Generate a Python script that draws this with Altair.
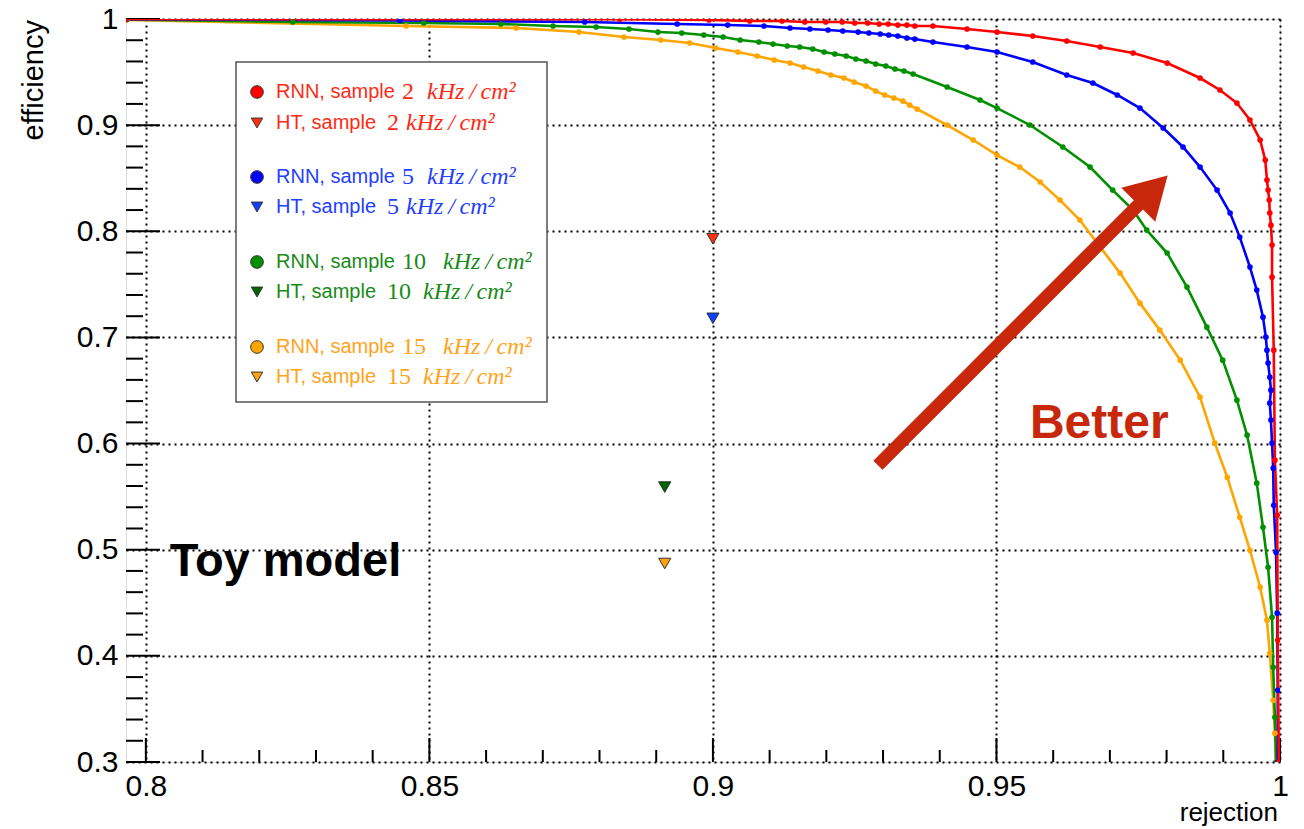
import altair as alt
import pandas as pd

# ---------------- data ----------------
samples = ["2", "5", "10", "15"]

rnn2_x = [0.7966, 0.8836, 0.8993, 0.9065, 0.9122, 0.9162, 0.9199, 0.9228, 0.9250, 0.9273,
          0.9293, 0.9309, 0.9326, 0.9342, 0.9356, 0.9388, 0.9448, 0.9501, 0.9564, 0.9624,
          0.9683, 0.9741, 0.9801, 0.9859, 0.9894, 0.9924, 0.9947, 0.9965, 0.9974, 0.9977,
          0.9979, 0.9981, 0.9982, 0.9984, 0.9986, 0.9986, 0.9989, 0.9991, 0.9995, 0.9996, 0.9998]
rnn2_y = [1.0, 0.9997, 0.9991, 0.9981, 0.9981, 0.9972, 0.9972, 0.9972, 0.9962, 0.9962,
          0.9953, 0.9953, 0.9943, 0.9943, 0.9934, 0.9934, 0.9906, 0.9877, 0.9840, 0.9793,
          0.9736, 0.9680, 0.9585, 0.9444, 0.9331, 0.9208, 0.9048, 0.8860, 0.8671, 0.8483,
          0.8388, 0.8294, 0.8172, 0.8058, 0.7870, 0.7568, 0.6880, 0.5844, 0.5325, 0.4147, 0.3000]

rnn5_x = [0.7966, 0.8448, 0.8774, 0.8937, 0.9026, 0.9090, 0.9136, 0.9171, 0.9203, 0.9229,
          0.9256, 0.9275, 0.9295, 0.9310, 0.9326, 0.9342, 0.9356, 0.9388, 0.9448, 0.9501,
          0.9564, 0.9624, 0.9670, 0.9713, 0.9753, 0.9794, 0.9829, 0.9859, 0.9889, 0.9912,
          0.9929, 0.9947, 0.9959, 0.9970, 0.9975, 0.9977, 0.9979, 0.9982, 0.9984, 0.9982,
          0.9984, 0.9986, 0.9988, 0.9989, 0.9993, 0.9995, 0.9996, 0.9996]
rnn5_y = [0.9998, 0.9986, 0.9972, 0.9953, 0.9943, 0.9934, 0.9915, 0.9906, 0.9896, 0.9887,
          0.9877, 0.9868, 0.9859, 0.9849, 0.9840, 0.9821, 0.9811, 0.9783, 0.9736, 0.9689,
          0.9595, 0.9472, 0.9397, 0.9284, 0.9161, 0.8973, 0.8794, 0.8605, 0.8388, 0.8172,
          0.7945, 0.7663, 0.7446, 0.7191, 0.7003, 0.6880, 0.6758, 0.6626, 0.6503, 0.6381,
          0.6221, 0.6004, 0.5768, 0.5419, 0.4976, 0.4402, 0.3676, 0.3000]

rnn10_x = [0.7966, 0.8259, 0.8490, 0.8626, 0.8718, 0.8794, 0.8852, 0.8903, 0.8945, 0.8984,
           0.9018, 0.9048, 0.9081, 0.9106, 0.9131, 0.9153, 0.9176, 0.9196, 0.9215, 0.9235,
           0.9252, 0.9270, 0.9287, 0.9305, 0.9321, 0.9337, 0.9353, 0.9413, 0.9471, 0.9501,
           0.9559, 0.9617, 0.9665, 0.9705, 0.9741, 0.9765, 0.9801, 0.9836, 0.9871, 0.9899,
           0.9924, 0.9942, 0.9959, 0.9970, 0.9979, 0.9986, 0.9988, 0.9991, 0.9993]
rnn10_y = [0.9995, 0.9972, 0.9962, 0.9953, 0.9934, 0.9925, 0.9906, 0.9877, 0.9868, 0.9849,
           0.9830, 0.9802, 0.9783, 0.9764, 0.9746, 0.9736, 0.9717, 0.9689, 0.9670, 0.9651,
           0.9623, 0.9604, 0.9576, 0.9557, 0.9529, 0.9510, 0.9482, 0.9359, 0.9237, 0.9161,
           0.9001, 0.8794, 0.8605, 0.8388, 0.8200, 0.8011, 0.7795, 0.7474, 0.7097, 0.6786,
           0.6409, 0.6079, 0.5627, 0.5212, 0.4835, 0.4364, 0.3893, 0.3421, 0.3000]

rnn15_x = [0.7966, 0.8459, 0.8653, 0.8764, 0.8843, 0.8908, 0.8959, 0.9005, 0.9044, 0.9078,
           0.9108, 0.9136, 0.9160, 0.9185, 0.9208, 0.9231, 0.9249, 0.9270, 0.9287, 0.9303,
           0.9319, 0.9335, 0.9347, 0.9360, 0.9413, 0.9459, 0.9501, 0.9541, 0.9577, 0.9612,
           0.9647, 0.9683, 0.9718, 0.9753, 0.9788, 0.9824, 0.9859, 0.9885, 0.9907, 0.9929,
           0.9947, 0.9965, 0.9977, 0.9982, 0.9988, 0.9991, 0.9993]
rnn15_y = [0.9990, 0.9934, 0.9915, 0.9877, 0.9830, 0.9802, 0.9774, 0.9727, 0.9689, 0.9651,
           0.9614, 0.9585, 0.9548, 0.9510, 0.9472, 0.9444, 0.9406, 0.9369, 0.9321, 0.9284,
           0.9255, 0.9227, 0.9189, 0.9152, 0.9001, 0.8860, 0.8718, 0.8605, 0.8464, 0.8294,
           0.8106, 0.7851, 0.7606, 0.7323, 0.7069, 0.6786, 0.6437, 0.6004, 0.5683, 0.5306,
           0.4995, 0.4647, 0.4336, 0.4024, 0.3582, 0.3270, 0.3000]

# HT working points (samples 2, 5, 10, 15)
ht_x = [0.9000, 0.9000, 0.8915, 0.8915]
ht_y = [0.793, 0.718, 0.559, 0.487]

# axis ticks
x_major = [0.8, 0.85, 0.9, 0.95, 1.0]
x_minor = [0.81, 0.82, 0.83, 0.84, 0.86, 0.87, 0.88, 0.89, 0.91, 0.92, 0.93, 0.94,
           0.96, 0.97, 0.98, 0.99]
y_major = [0.3, 0.4, 0.5, 0.6, 0.7, 0.8, 0.9, 1.0]
y_minor = [0.32, 0.34, 0.36, 0.38, 0.42, 0.44, 0.46, 0.48, 0.52, 0.54, 0.56, 0.58,
           0.62, 0.64, 0.66, 0.68, 0.72, 0.74, 0.76, 0.78, 0.82, 0.84, 0.86, 0.88,
           0.92, 0.94, 0.96, 0.98]

# annotations
arrow_x = [0.9291, 0.9757]
arrow_y = [0.5796, 0.8285]
arrow_head_x = [0.9776]
arrow_head_y = [0.8388]
better_pos = [0.9559, 0.6183]
toy_pos = [0.8042, 0.4882]

# ---------------- styling ----------------
curve_colors = {"2": "#ff0000", "5": "#0000ff", "10": "#009000", "15": "#ffa500"}
ht_colors = {"2": "#ff3010", "5": "#1040ff", "10": "#006400", "15": "#ffa010"}
text_colors = {"2": "#ff2a14", "5": "#1f40ff", "10": "#188a18", "15": "#ffa31a"}
ARROW = "#c7270b"
SANS = "Liberation Sans"
SERIF = "Liberation Serif"

W, H = 1154, 743

rows = []
for name, xs, ys in [("15", rnn15_x, rnn15_y), ("10", rnn10_x, rnn10_y),
                     ("5", rnn5_x, rnn5_y), ("2", rnn2_x, rnn2_y)]:
    for i, (x, y) in enumerate(zip(xs, ys)):
        rows.append({"sample": name, "rejection": x, "efficiency": y, "order": i})
curves = pd.DataFrame(rows)
ht = pd.DataFrame({"sample": samples, "rejection": ht_x, "efficiency": ht_y})

xscale = alt.Scale(domain=[0.7965, 1.0], nice=False, zero=False)
yscale = alt.Scale(domain=[0.3, 1.0], nice=False, zero=False)
common_axis = dict(format="~g", title=None, ticks=False, domain=False, grid=True,
                   gridDash=[2, 4], gridColor="black", gridWidth=2, gridOpacity=1,
                   labelFontSize=30, labelFont=SANS, labelColor="black",
                   labelFlush=False, labelOverlap=False)
x_axis = alt.Axis(values=x_major, labelPadding=9, **common_axis)
y_axis = alt.Axis(values=y_major, labelPadding=8, **common_axis)


def X(field):
    return alt.X(field, type="quantitative", scale=xscale, axis=x_axis)


def Y(field):
    return alt.Y(field, type="quantitative", scale=yscale, axis=y_axis)


cscale = alt.Scale(domain=list(curve_colors.keys()), range=list(curve_colors.values()))
hscale = alt.Scale(domain=list(ht_colors.keys()), range=list(ht_colors.values()))

one = pd.DataFrame({"a": [0]})
layers = []

# ticks (inside the frame, ROOT style)
layers.append(alt.Chart(pd.DataFrame({"v": y_major})).mark_rule(color="black", strokeWidth=2)
              .encode(y=Y("v"), x=alt.value(0), x2=alt.value(34)))
layers.append(alt.Chart(pd.DataFrame({"v": y_minor})).mark_rule(color="black", strokeWidth=2)
              .encode(y=Y("v"), x=alt.value(0), x2=alt.value(17)))
layers.append(alt.Chart(pd.DataFrame({"v": x_major})).mark_rule(color="black", strokeWidth=2)
              .encode(x=X("v"), y=alt.value(H), y2=alt.value(H - 24)))
layers.append(alt.Chart(pd.DataFrame({"v": x_minor})).mark_rule(color="black", strokeWidth=2)
              .encode(x=X("v"), y=alt.value(H), y2=alt.value(H - 12)))

# legend box
layers.append(alt.Chart(one).mark_rect(fill="white", stroke="#555555", strokeWidth=1.5)
              .encode(x=alt.value(110), x2=alt.value(421), y=alt.value(43), y2=alt.value(383)))

# curves
layers.append(alt.Chart(curves).mark_line(strokeWidth=2.6, clip=True).encode(
    x=X("rejection"), y=Y("efficiency"),
    color=alt.Color("sample:N", scale=cscale, legend=None),
    detail="sample:N", order="order:Q"))
layers.append(alt.Chart(curves).mark_circle(size=32, opacity=1, clip=True).encode(
    x=X("rejection"), y=Y("efficiency"),
    color=alt.Color("sample:N", scale=cscale, legend=None)))

# HT points
layers.append(alt.Chart(ht).mark_point(shape="triangle-down", size=150, filled=True,
                                       opacity=1, stroke="#333333", strokeWidth=1).encode(
    x=X("rejection"), y=Y("efficiency"),
    fill=alt.Fill("sample:N", scale=hscale, legend=None)))

# legend entries
row_y = {"2": (73, 104), "5": (158, 188), "10": (243, 273), "15": (328, 358)}
for s in samples:
    ry, hy = row_y[s]
    col = text_colors[s]
    two = len(s) == 2
    entries = [
        ("RNN, sample ", ry, "circle", 160, 276, 317 if two else 301, curve_colors[s]),
        ("HT, sample ", hy, "triangle-down", 130, 261, 297 if two else 280, ht_colors[s]),
    ]
    for label, yy, shape, size, num_x, unit_x, mcol in entries:
        layers.append(alt.Chart(one).mark_point(shape=shape, size=size, filled=True, opacity=1,
                                                fill=mcol, stroke="#333333", strokeWidth=1)
                      .encode(x=alt.value(131), y=alt.value(yy)))
        layers.append(alt.Chart(one).mark_text(text=label, font=SANS, fontSize=20, color=col,
                                               align="left", baseline="middle")
                      .encode(x=alt.value(150), y=alt.value(yy)))
        layers.append(alt.Chart(one).mark_text(text=s, font=SERIF, fontSize=24, color=col,
                                               align="left", baseline="middle")
                      .encode(x=alt.value(num_x), y=alt.value(yy)))
        layers.append(alt.Chart(one).mark_text(text="kHz\u2009/\u2009cm\u00b2", font=SERIF,
                                               fontSize=24, fontStyle="italic", color=col,
                                               align="left", baseline="middle")
                      .encode(x=alt.value(unit_x), y=alt.value(yy)))

# arrow
arrow_df = pd.DataFrame({"x": [arrow_x[0]], "y": [arrow_y[0]],
                         "x2": [arrow_x[1]], "y2": [arrow_y[1]]})
layers.append(alt.Chart(arrow_df).mark_rule(color=ARROW, strokeWidth=13, strokeCap="butt")
              .encode(x=X("x"), y=Y("y"), x2="x2:Q", y2="y2:Q"))
layers.append(alt.Chart(pd.DataFrame({"x": arrow_head_x, "y": arrow_head_y}))
              .mark_point(shape="triangle-up", angle=45, size=2300, filled=True,
                          opacity=1, color=ARROW)
              .encode(x=X("x"), y=Y("y")))

# annotations
layers.append(alt.Chart(pd.DataFrame({"x": [better_pos[0]], "y": [better_pos[1]]}))
              .mark_text(text="Better", font=SANS, fontSize=48, fontWeight="bold", color=ARROW,
                         align="left", baseline="middle")
              .encode(x=X("x"), y=Y("y")))
layers.append(alt.Chart(pd.DataFrame({"x": [toy_pos[0]], "y": [toy_pos[1]]}))
              .mark_text(text="Toy model", font=SANS, fontSize=47, fontWeight="bold",
                         color="black", align="left", baseline="middle")
              .encode(x=X("x"), y=Y("y")))

# axis titles (ROOT style, at the axis ends)
layers.append(alt.Chart(one).mark_text(text="efficiency", font=SANS, fontSize=29, angle=270,
                                       align="right", baseline="middle", color="black")
              .encode(x=alt.value(-92), y=alt.value(1)))
layers.append(alt.Chart(one).mark_text(text="rejection", font=SANS, fontSize=26,
                                       align="right", baseline="middle", color="black")
              .encode(x=alt.value(W - 2), y=alt.value(H + 51)))

chart = (alt.layer(*layers)
         .properties(width=W, height=H,
                     padding={"left": 118, "top": 11, "right": 16, "bottom": 64},
                     autosize=alt.AutoSizeParams(type="none"))
         .configure_view(stroke="black", strokeWidth=2)
         .configure(font=SANS))

chart.save("out.html", embed_options={"renderer": "svg", "actions": False})
